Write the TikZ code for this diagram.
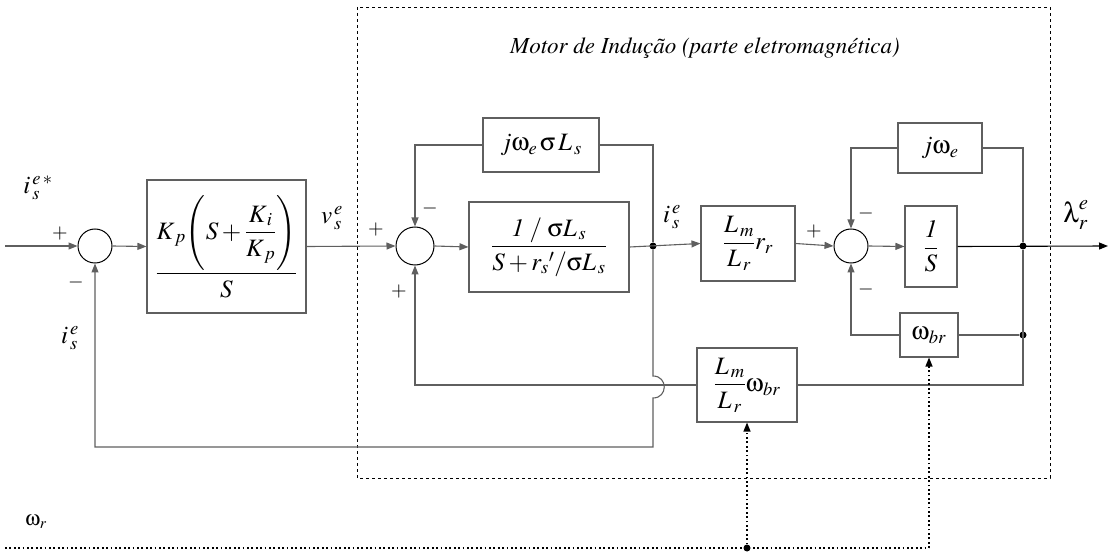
\documentclass[tikz,border=0pt]{standalone}
\usepackage[T1]{fontenc}
\usepackage{mathptmx}
\usepackage{pifont}
\usepackage{amsmath}
\usetikzlibrary{positioning,arrows.meta,calc}
\definecolor{linegray}{RGB}{95,95,95}
\tikzset{
  blk/.style    = {draw=linegray, line width=1.1pt, inner sep=0pt, align=center, font=\fontsize{25}{29}\selectfont},
  sumnode/.style = {draw=black, circle, line width=1pt, inner sep=0pt},
  flow/.style   = {-{Triangle[length=9pt,width=7pt]}, line width=1.1pt, draw=linegray},
  wire/.style   = {line width=1.1pt, draw=linegray},
  ctrl/.style   = {line width=1.3pt, draw=black, dash pattern=on 1.8pt off 2.6pt},
  sign/.style   = {font=\fontsize{20}{22}\selectfont, inner sep=0pt},
  lbl/.style    = {font=\fontsize{25}{29}\selectfont, inner sep=0pt},
  junc/.style   = {circle, fill=black, inner sep=0pt, minimum size=7pt},
}
\newcommand{\symom}{\mbox{\Pisymbol{psy}{119}}}
\newcommand{\symsig}{\mbox{\Pisymbol{psy}{115}}}
\newcommand{\symlam}{\mbox{\Pisymbol{psy}{108}}}

\begin{document}
\begin{tikzpicture}[x=1pt,y=-1pt]
  \useasboundingbox (0,0) rectangle (1112,556);
  % motor frame
  \draw[line width=0.9pt, dash pattern=on 3pt off 3pt] (357,7) rectangle (1050,478);
  \node[lbl, font=\fontsize{23}{26}\selectfont\itshape] (title) at (705,48) {Motor de Indu\c{c}\~ao (parte eletromagn\'etica)};

  % summing junctions
  \node[sumnode, minimum size=34pt] (s1) at (95,246) {};
  \node[sumnode, minimum size=38pt] (s2) at (415,246) {};
  \node[sumnode, minimum size=34pt] (s3) at (851,246) {};

  % blocks
  \node[blk, minimum width=159pt, minimum height=133pt] (pi) at (226.5,246.5)
    {$\dfrac{K_{\,p}\Biggl(S+\dfrac{K_{\,i}}{K_{\,p}}\Biggr)}{S}$};
  \node[blk, minimum width=116pt, minimum height=54pt] (jws) at (541,145) {$j\symom_e\,\symsig\, L_{\,s}$};
  \node[blk, minimum width=160pt, minimum height=90pt] (sig) at (549,247)
    {$\dfrac{\mathit{1}\;/\;\symsig L_{\,s}}{S+r_s{}'/\symsig L_{\,s}}$};
  \node[blk, minimum width=94pt, minimum height=75pt] (lrr) at (748,243.5) {$\dfrac{L_{\,m}}{L_{\,r}}r_r$};
  \node[blk, minimum width=84pt, minimum height=50pt] (jwe) at (940,148) {$j\symom_e$};
  \node[blk, minimum width=52pt, minimum height=81pt] (ons) at (931,246.5) {$\dfrac{\mathit{1}}{S}$};
  \node[blk, minimum width=58pt, minimum height=44pt] (wbr) at (929,335) {$\symom_{br}$};
  \node[blk, minimum width=100pt, minimum height=74pt] (lwb) at (747,385) {$\dfrac{L_{\,m}}{L_{\,r}}\symom_{br}$};

  % junction points and free ends
  \coordinate (in) at (5,246);
  \coordinate (out) at (1108,246);
  \node[junc] (j1) at (653,246) {};
  \node[junc] (j2) at (1023,246) {};
  \node[junc] (j3) at (1023,335) {};
  \coordinate (wr0) at (5,548);
  \coordinate (wr1) at (929,548);
  \node[junc] (j5) at (747,548) {};

  % forward path
  \draw[flow] (in) -- (s1.west);
  \draw[flow] (s1.east) -- (pi.west);
  \draw[flow] (pi.east) -- (s2.west);
  \draw[flow] (s2.east) -- (sig.west);
  \draw[flow] (sig.east) -- (lrr.west);
  \draw[flow] (lrr.east) -- (s3.west);
  \draw[flow] (s3.east) -- (ons.west);
  \draw[flow, draw=black] (ons.east) -- (out);

  % feedback loops
  \draw[flow] (jws.west) -| (s2.north);
  \draw[wire] (jws.east) -| (j1);
  \draw[flow] (j1) -- (653,376) .. controls (668,376) and (668,398) .. (653,398) -- (653,447) -| (s1.south);
  \draw[flow] (lwb.west) -| (s2.south);
  \draw[wire] (lwb.east) -| (j2);
  \draw[wire] (jwe.east) -| (j2);
  \draw[flow] (jwe.west) -| (s3.north);
  \draw[wire] (wbr.east) -- (j3);
  \draw[flow] (wbr.west) -| (s3.south);

  % speed input
  \draw[ctrl] (wr0) -- (wr1);
  \draw[ctrl, -{Triangle[length=9pt,width=7pt]}] (wr1) -- (wbr.south);
  \draw[ctrl, -{Triangle[length=9pt,width=7pt]}] (j5) -- (lwb.south);

  % signal labels
  \node[lbl] (iref) at (38,188) {$i_{\,s}^{\,e\,*}$};
  \node[lbl] (ifb) at (70,338) {$i_{\,s}^{\,e}$};
  \node[lbl] (vs) at (332,218) {$v_{\,s}^{\,e}$};
  \node[lbl] (is) at (672,217) {$i_{\,s}^{\,e}$};
  \node[lbl, font=\fontsize{28}{32}\selectfont] (lam) at (1076,215) {$\symlam_r^e$};
  \node[lbl, font=\fontsize{21}{24}\selectfont] (wr) at (36,522) {$\symom_r$};

  % signs
  \node[sign] at (60,234) {$+$};
  \node[sign] at (76,283) {$-$};
  \node[sign] at (376,230) {$+$};
  \node[sign] at (430,209) {$-$};
  \node[sign] at (399,292) {$+$};
  \node[sign] at (814,232) {$+$};
  \node[sign] at (866,214) {$-$};
  \node[sign] at (866,290) {$-$};
\end{tikzpicture}
\end{document}
